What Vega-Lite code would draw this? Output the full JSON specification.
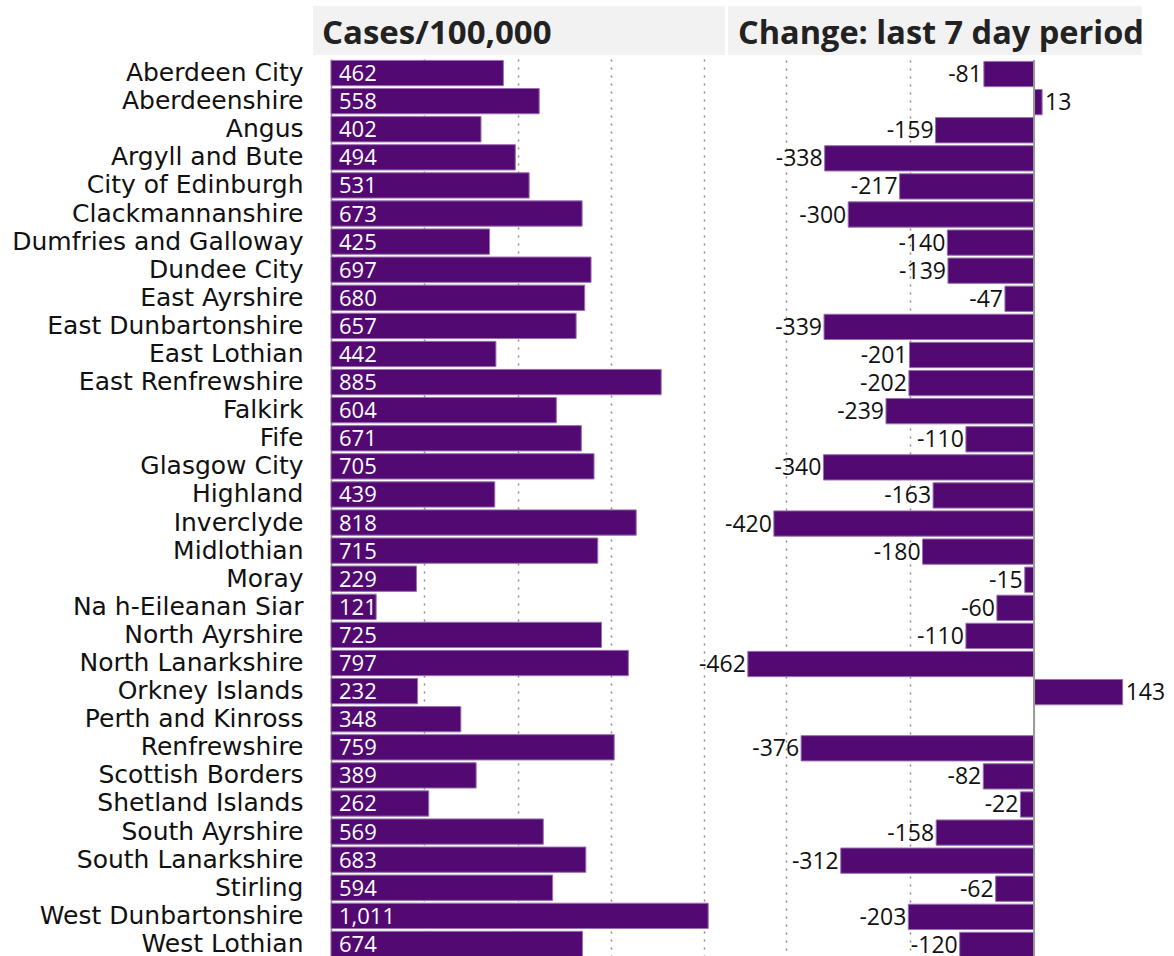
{
  "$schema": "https://vega.github.io/schema/vega-lite/v6.json",
  "padding": {"left": 11, "top": 6, "right": 0, "bottom": 0},
  "background": "white",
  "config": {
    "view": {"stroke": null},
    "font": "Open Sans"
  },
  "datasets": {
    "areas": [
      {"area": "Aberdeen City", "cases": 462, "change": -81},
      {"area": "Aberdeenshire", "cases": 558, "change": 13},
      {"area": "Angus", "cases": 402, "change": -159},
      {"area": "Argyll and Bute", "cases": 494, "change": -338},
      {"area": "City of Edinburgh", "cases": 531, "change": -217},
      {"area": "Clackmannanshire", "cases": 673, "change": -300},
      {"area": "Dumfries and Galloway", "cases": 425, "change": -140},
      {"area": "Dundee City", "cases": 697, "change": -139},
      {"area": "East Ayrshire", "cases": 680, "change": -47},
      {"area": "East Dunbartonshire", "cases": 657, "change": -339},
      {"area": "East Lothian", "cases": 442, "change": -201},
      {"area": "East Renfrewshire", "cases": 885, "change": -202},
      {"area": "Falkirk", "cases": 604, "change": -239},
      {"area": "Fife", "cases": 671, "change": -110},
      {"area": "Glasgow City", "cases": 705, "change": -340},
      {"area": "Highland", "cases": 439, "change": -163},
      {"area": "Inverclyde", "cases": 818, "change": -420},
      {"area": "Midlothian", "cases": 715, "change": -180},
      {"area": "Moray", "cases": 229, "change": -15},
      {"area": "Na h-Eileanan Siar", "cases": 121, "change": -60},
      {"area": "North Ayrshire", "cases": 725, "change": -110},
      {"area": "North Lanarkshire", "cases": 797, "change": -462},
      {"area": "Orkney Islands", "cases": 232, "change": 143},
      {"area": "Perth and Kinross", "cases": 348, "change": null},
      {"area": "Renfrewshire", "cases": 759, "change": -376},
      {"area": "Scottish Borders", "cases": 389, "change": -82},
      {"area": "Shetland Islands", "cases": 262, "change": -22},
      {"area": "South Ayrshire", "cases": 569, "change": -158},
      {"area": "South Lanarkshire", "cases": 683, "change": -312},
      {"area": "Stirling", "cases": 594, "change": -62},
      {"area": "West Dunbartonshire", "cases": 1011, "change": -203},
      {"area": "West Lothian", "cases": 674, "change": -120}
    ],
    "headers": [{"h": "header"}]
  },
  "spacing": -27,
  "hconcat": [
    {
      "spacing": 4,
      "vconcat": [
        {
          "width": 394,
          "height": 49,
          "data": {"name": "headers"},
          "layer": [
            {
              "mark": {"type": "rect", "color": "#f2f2f2"},
              "encoding": {
                "x": {"datum": -18, "type": "quantitative", "scale": {"domain": [0, 394], "nice": false, "zero": false}, "axis": null},
                "x2": {"datum": 394},
                "y": {"datum": 0, "type": "quantitative", "scale": {"domain": [0, 1], "nice": false}, "axis": null},
                "y2": {"datum": 1}
              }
            },
            {
              "mark": {"type": "text", "text": "Cases/100,000", "align": "left", "baseline": "middle", "font": "Open Sans", "fontWeight": "bold", "fontSize": 33, "color": "#222222"},
              "encoding": {
                "x": {"datum": -9, "type": "quantitative"},
                "y": {"datum": 0.42, "type": "quantitative"}
              }
            }
          ]
        },
        {
          "width": 394,
          "height": 899,
          "data": {"name": "areas"},
          "encoding": {
            "y": {
              "field": "area",
              "type": "nominal",
              "sort": null,
              "scale": {"paddingInner": 0.1, "paddingOuter": 0.05},
              "axis": {"title": null, "ticks": false, "domain": true, "domainColor": "#888888", "domainWidth": 1.5, "labelFontSize": 25, "labelFont": "DejaVu Sans", "labelColor": "#111111", "labelPadding": 28, "labelLimit": 400}
            }
          },
          "layer": [
            {
              "mark": {"type": "bar", "color": "#520a72", "stroke": "#9b6fb0", "strokeWidth": 1},
              "encoding": {
                "x": {
                  "field": "cases",
                  "type": "quantitative",
                  "scale": {"domain": [0, 1056], "nice": false},
                  "axis": {"title": null, "orient": "top", "labels": false, "ticks": false, "domain": false, "values": [250, 500, 750, 1000], "grid": true, "gridDash": [2, 6], "gridColor": "#888888", "gridWidth": 1.5}
                }
              }
            },
            {
              "mark": {"type": "text", "align": "left", "baseline": "middle", "dx": 8, "dy": 1, "color": "white", "fontSize": 22, "font": "Open Sans"},
              "encoding": {
                "x": {"datum": 0, "type": "quantitative"},
                "text": {"field": "cases", "type": "quantitative", "format": ","}
              }
            }
          ]
        }
      ]
    },
    {
      "spacing": 4,
      "vconcat": [
        {
          "width": 412,
          "height": 49,
          "data": {"name": "headers"},
          "layer": [
            {
              "mark": {"type": "rect", "color": "#f2f2f2"},
              "encoding": {
                "x": {"datum": 0, "type": "quantitative", "scale": {"domain": [0, 412], "nice": false, "zero": false}, "axis": null},
                "x2": {"datum": 414},
                "y": {"datum": 0, "type": "quantitative", "scale": {"domain": [0, 1], "nice": false}, "axis": null},
                "y2": {"datum": 1}
              }
            },
            {
              "mark": {"type": "text", "text": "Change: last 7 day period", "align": "left", "baseline": "middle", "font": "Open Sans", "fontWeight": "bold", "fontSize": 32.5, "color": "#222222"},
              "encoding": {
                "x": {"datum": 10, "type": "quantitative"},
                "y": {"datum": 0.42, "type": "quantitative"}
              }
            }
          ]
        },
        {
          "width": 412,
          "height": 899,
          "data": {"name": "areas"},
          "layer": [
            {
              "mark": {"type": "bar", "color": "#520a72", "stroke": "#9b6fb0", "strokeWidth": 1},
              "encoding": {
                "x": {
                  "field": "change",
                  "type": "quantitative",
                  "scale": {"domain": [-494, 171], "nice": false},
                  "axis": {"title": null, "orient": "top", "labels": false, "ticks": false, "domain": false, "values": [-400, -200], "grid": true, "gridDash": [2, 6], "gridColor": "#888888", "gridWidth": 1.5}
                },
                "y": {
                  "field": "area",
                  "type": "nominal",
                  "sort": null,
                  "scale": {
                    "domain": ["Aberdeen City", "Aberdeenshire", "Angus", "Argyll and Bute", "City of Edinburgh", "Clackmannanshire", "Dumfries and Galloway", "Dundee City", "East Ayrshire", "East Dunbartonshire", "East Lothian", "East Renfrewshire", "Falkirk", "Fife", "Glasgow City", "Highland", "Inverclyde", "Midlothian", "Moray", "Na h-Eileanan Siar", "North Ayrshire", "North Lanarkshire", "Orkney Islands", "Perth and Kinross", "Renfrewshire", "Scottish Borders", "Shetland Islands", "South Ayrshire", "South Lanarkshire", "Stirling", "West Dunbartonshire", "West Lothian"],
                    "paddingInner": 0.1,
                    "paddingOuter": 0.05
                  },
                  "axis": null
                }
              }
            },
            {
              "data": {"name": "headers"},
              "mark": {"type": "rule", "color": "#999999", "strokeWidth": 2},
              "encoding": {"x": {"datum": 0, "type": "quantitative"}}
            },
            {
              "transform": [{"filter": "datum.change < 0"}],
              "mark": {"type": "text", "align": "right", "baseline": "middle", "dx": -2, "dy": 1, "color": "#111111", "fontSize": 23, "font": "Open Sans"},
              "encoding": {
                "x": {"field": "change", "type": "quantitative"},
                "y": {"field": "area", "type": "nominal", "sort": null},
                "text": {"field": "change", "type": "nominal"}
              }
            },
            {
              "transform": [{"filter": "datum.change > 0"}],
              "mark": {"type": "text", "align": "left", "baseline": "middle", "dx": 3, "dy": 1, "color": "#111111", "fontSize": 23, "font": "Open Sans"},
              "encoding": {
                "x": {"field": "change", "type": "quantitative"},
                "y": {"field": "area", "type": "nominal", "sort": null},
                "text": {"field": "change", "type": "nominal"}
              }
            }
          ]
        }
      ]
    }
  ]
}
